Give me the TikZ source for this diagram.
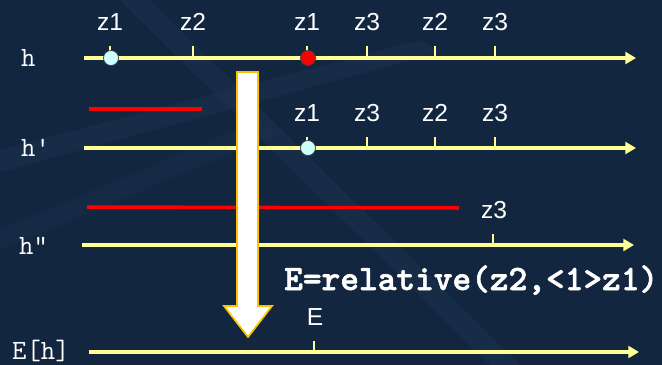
\documentclass[tikz,border=0pt]{standalone}
\usepackage{fontspec}
\setmainfont{Liberation Sans}
\newfontfamily\rulefont[FakeBold=1.6]{lmmonolt10-bold.otf}
\usetikzlibrary{arrows.meta}
\definecolor{navy}{RGB}{19,38,63}
\definecolor{band}{RGB}{28,52,82}
\definecolor{axisyellow}{RGB}{255,255,150}
\definecolor{gapred}{RGB}{255,0,0}
\definecolor{paleblue}{RGB}{204,255,255}
\definecolor{gold}{RGB}{255,192,0}

\begin{document}
\begin{tikzpicture}[x=0.03cm, y=-0.03cm,
  axis/.style={draw=axisyellow, line width=3pt, -{Triangle[length=9pt, width=10pt]}},
  tick/.style={draw=axisyellow, line width=2.5pt},
  gap/.style={draw=gapred, line width=3pt},
  zlab/.style={anchor=base, text=white, inner sep=0pt, font=\fontsize{21}{24}\selectfont},
  hlab/.style={anchor=base west, text=white, inner sep=0pt, font=\ttfamily\fontsize{23.8}{26}\selectfont},
  dot/.style={circle, draw=black!75, line width=0.6pt, fill=#1, minimum size=0.45cm, inner sep=0pt},
]
% background
\fill[navy] (0,0) rectangle (662,365);
\useasboundingbox (0,0) rectangle (662,365);
\fill[band, opacity=0.45] (0,150) -- (420,40) -- (440,52) -- (0,172) -- cycle;
\fill[band, opacity=0.45] (120,0) -- (150,0) -- (520,365) -- (490,365) -- cycle;
\fill[band, opacity=0.35] (0,230) -- (260,120) -- (275,135) -- (0,250) -- cycle;

% axis h
\node[hlab] (lh) at (21,66) {h};
\coordinate (hS) at (84,58);
\coordinate (hE) at (636,58);
\foreach \x/\t [count=\i] in {110/z1, 193/z2, 307/z1, 367/z3, 435/z2, 495/z3} {
  \draw[tick] (\x,46) -- (\x,58);
  \node[zlab] (ha\i) at (\x,30) {\t};
}
\draw[axis] (hS) -- (hE);
\node[dot=paleblue] (hz1) at (111,58) {};
\node[dot=gapred] (hz2) at (308,58) {};

% axis h'
\coordinate (r1S) at (89,109);
\coordinate (r1E) at (202,109);
\draw[gap] (r1S) -- (r1E);
\node[hlab] (lhp) at (21,156) {h'};
\coordinate (hpS) at (84,148);
\coordinate (hpE) at (636,148);
\foreach \x/\t [count=\i] in {307/z1, 367/z3, 435/z2, 495/z3} {
  \draw[tick] (\x,137) -- (\x,148);
  \node[zlab] (hpa\i) at (\x,121) {\t};
}
\draw[axis] (hpS) -- (hpE);
\node[dot=paleblue] (hpz1) at (308,148) {};

% axis h''
\coordinate (r2S) at (87,207);
\coordinate (r2E) at (459,208);
\draw[gap] (r2S) -- (r2E);
\node[hlab] (lhpp) at (19,254) {h"};
\coordinate (hppS) at (82,245);
\coordinate (hppE) at (634,245);
\draw[tick] (493,234) -- (493,245);
\node[zlab] (hppa1) at (494,218) {z3};
\draw[axis] (hppS) -- (hppE);

% axis E[h]
\node[hlab] (leh) at (12,359) {E[h]};
\coordinate (ehS) at (89,352);
\coordinate (ehE) at (639,352);
\draw[tick] (314,341) -- (314,352);
\node[zlab] (eha1) at (315,325) {E};
\draw[axis] (ehS) -- (ehE);

% big arrow
\filldraw[fill=white, draw=gold, line width=1.5pt, line join=miter]
  (237,72) -- (258,72) -- (258,306) -- (272,306) -- (248,337)
  -- (224,306) -- (237,306) -- cycle;
\node[anchor=base west, text=white, inner sep=0pt,
  font=\rulefont\fontsize{30.4}{34}\selectfont] (rule) at (284,290)
  {E=relative(z2,<1>z1)};
\end{tikzpicture}
\end{document}
